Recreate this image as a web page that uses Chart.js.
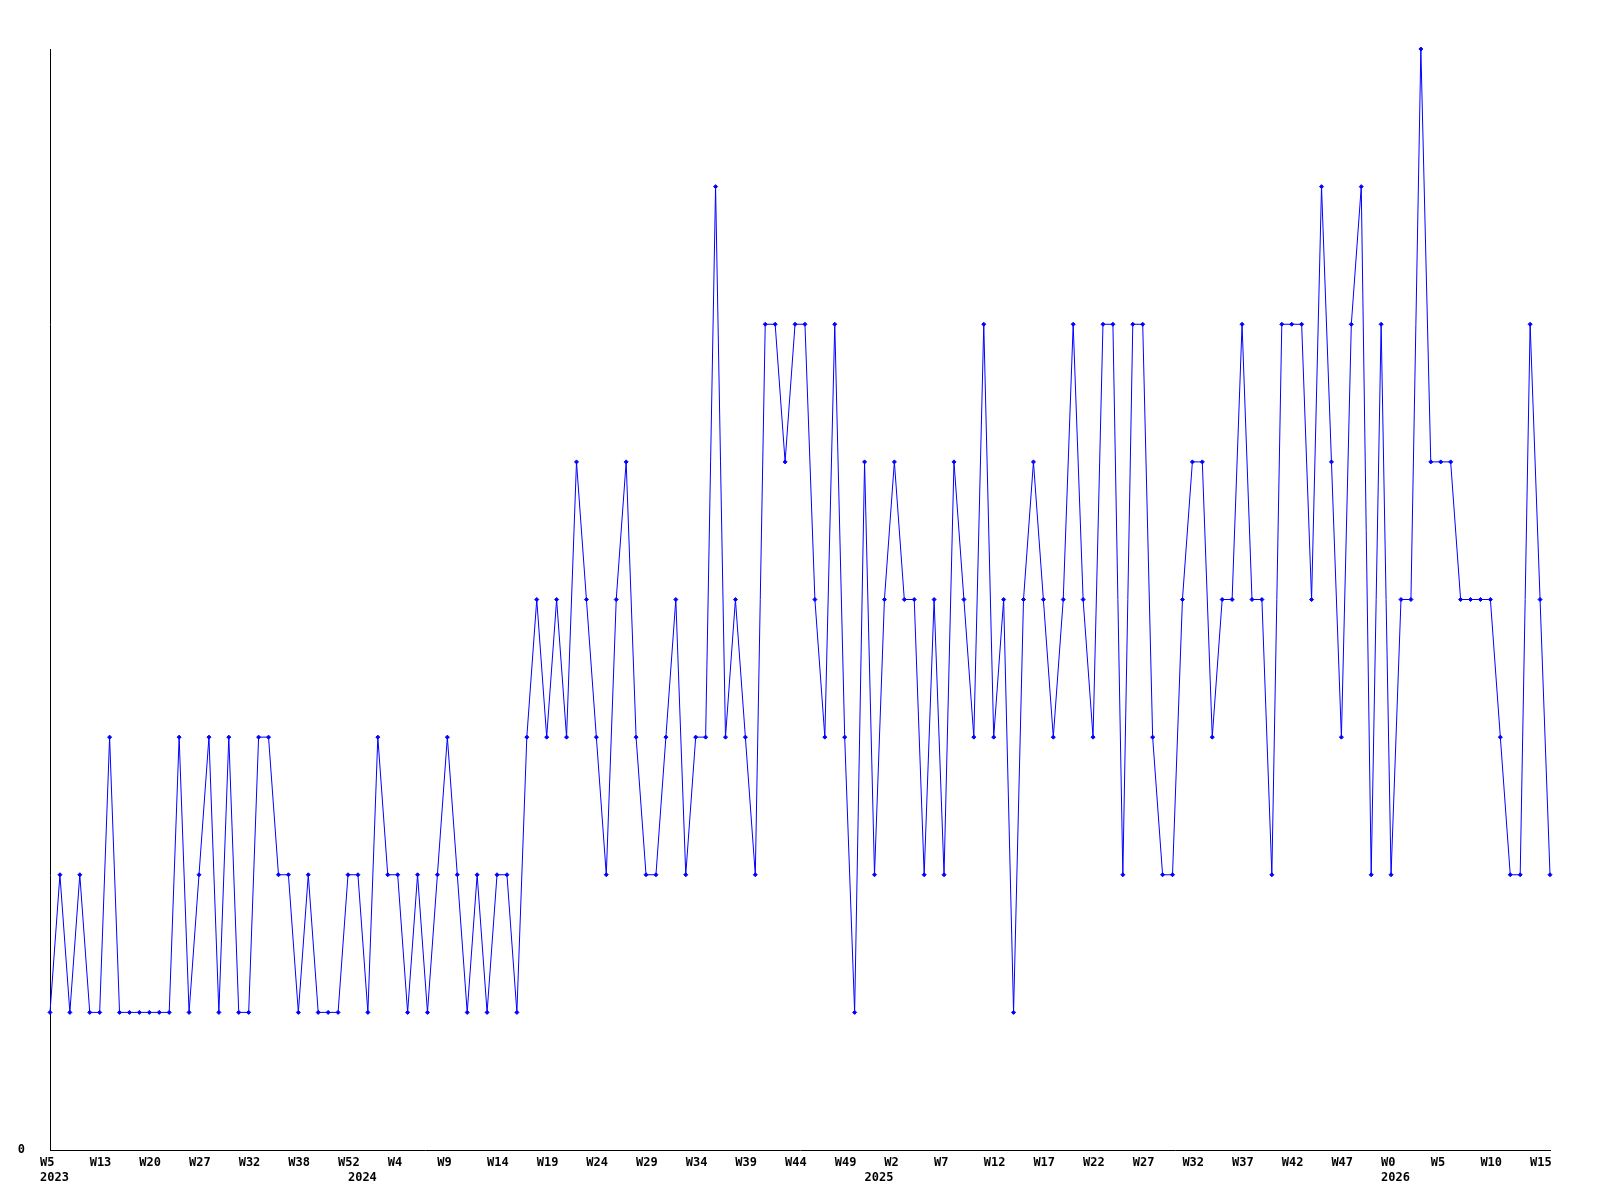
<!DOCTYPE html>
<html>
<head>
<meta charset="utf-8">
<title>Weekly count</title>
<script src="https://cdn.jsdelivr.net/npm/chart.js@4/dist/chart.umd.min.js"></script>
<style>
  html, body { margin: 0; padding: 0; background: #fff; }
  canvas { display: block; }
</style>
</head>
<body>
<canvas id="chart" width="1600" height="1200"></canvas>
<script>
// weekly values, one per point
const values = [
  1, 2, 1, 2, 1, 1, 3, 1, 1, 1,
  1, 1, 1, 3, 1, 2, 3, 1, 3, 1,
  1, 3, 3, 2, 2, 1, 2, 1, 1, 1,
  2, 2, 1, 3, 2, 2, 1, 2, 1, 2,
  3, 2, 1, 2, 1, 2, 2, 1, 3, 4,
  3, 4, 3, 5, 4, 3, 2, 4, 5, 3,
  2, 2, 3, 4, 2, 3, 3, 7, 3, 4,
  3, 2, 6, 6, 5, 6, 6, 4, 3, 6,
  3, 1, 5, 2, 4, 5, 4, 4, 2, 4,
  2, 5, 4, 3, 6, 3, 4, 1, 4, 5,
  4, 3, 4, 6, 4, 3, 6, 6, 2, 6,
  6, 3, 2, 2, 4, 5, 5, 3, 4, 4,
  6, 4, 4, 2, 6, 6, 6, 4, 7, 5,
  3, 6, 7, 2, 6, 2, 4, 4, 8, 5,
  5, 5, 4, 4, 4, 4, 3, 2, 2, 6,
  4, 2
]

// week labels shown on the axis (every 5th point)
const weekTicks = [
  'W5', 'W13', 'W20', 'W27', 'W32', 'W38', 'W52',
  'W4', 'W9', 'W14', 'W19', 'W24', 'W29', 'W34', 'W39', 'W44', 'W49',
  'W2', 'W7', 'W12', 'W17', 'W22', 'W27', 'W32', 'W37', 'W42', 'W47',
  'W0', 'W5', 'W10', 'W15'
]
const weekStep = 5

// year labels and the point where each year starts
const years = ['2023', '2024', '2025', '2026']
const yearStart = [0, 31, 83, 135]

const yMax = 8

const labels = values.map((v, i) => {
  const week = i % weekStep === 0 ? weekTicks[i / weekStep] : ''
  const y = yearStart.indexOf(i)
  return y >= 0 ? [week, years[y]] : week
})

const font = { family: '"DejaVu Sans Mono", monospace', size: 12, weight: 'bold', lineHeight: 1.25 }

new Chart(document.getElementById('chart'), {
  type: 'line',
  data: {
    labels: labels,
    datasets: [{
      data: values,
      borderColor: '#0000ff',
      borderWidth: 1,
      tension: 0,
      pointStyle: 'rectRot',
      pointRadius: 2,
      pointBorderWidth: 1,
      pointBackgroundColor: '#0000ff',
      pointBorderColor: '#0000ff',
      clip: false
    }]
  },
  options: {
    responsive: false,
    animation: false,
    layout: { padding: { top: 49, right: 50, left: 0, bottom: 0 } },
    plugins: {
      legend: { display: false },
      tooltip: { enabled: false }
    },
    scales: {
      x: {
        offset: false,
        grid: { display: false, drawTicks: false },
        border: { display: true, color: '#000', width: 1 },
        ticks: {
          autoSkip: false,
          maxRotation: 0,
          minRotation: 0,
          align: 'start',
          labelOffset: -10,
          padding: 5,
          color: '#000',
          font: font
        },
        afterFit: s => { s.height = 50 }
      },
      y: {
        min: 0,
        max: yMax,
        grid: { display: false, drawTicks: false },
        border: { display: true, color: '#000', width: 1 },
        ticks: {
          stepSize: yMax,
          padding: 25,
          color: '#000',
          font: font,
          callback: v => v === 0 ? '0' : ''
        },
        afterFit: s => { s.width = 50 }
      }
    }
  }
})
</script>
</body>
</html>
